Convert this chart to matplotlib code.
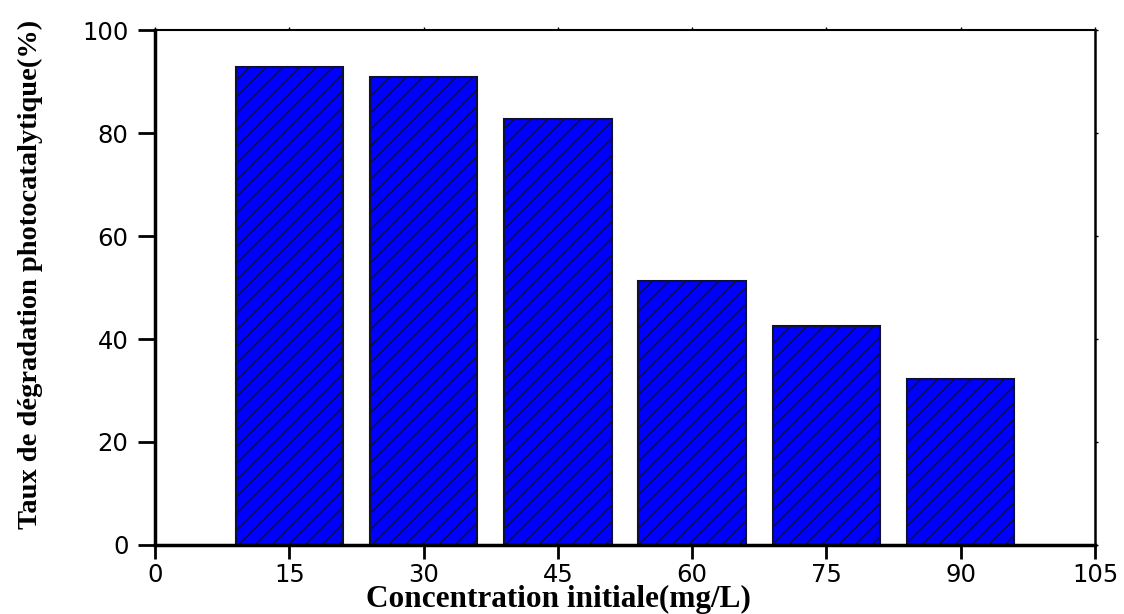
import matplotlib
matplotlib.use("Agg")
import matplotlib.pyplot as plt

concentrations = [15, 30, 45, 60, 75, 90]
degradation = [92.8, 90.9, 82.7, 51.3, 42.5, 32.2]
x_ticks = [0, 15, 30, 45, 60, 75, 90, 105]
y_ticks = [0, 20, 40, 60, 80, 100]

plt.rcParams['hatch.color'] = 'black'
plt.rcParams['hatch.linewidth'] = 1.0

fig = plt.figure(figsize=(11.24, 6.14), dpi=100)
ax = fig.add_axes([0.1379, 0.1124, 0.8363, 0.8387])

ax.bar(concentrations, degradation, width=12, color='#0000FF',
       edgecolor='#101030', linewidth=1.5, hatch='//', zorder=2)

ax.set_xlim(0, 105)
ax.set_ylim(0, 100)
ax.set_xticks(x_ticks)
ax.set_yticks(y_ticks)

tick_font = {'family': 'DejaVu Sans', 'size': 17.5}
ax.set_xticklabels([str(t) for t in x_ticks], fontdict=tick_font)
ax.set_yticklabels([str(t) for t in y_ticks], fontdict=tick_font)

ax.tick_params(axis='x', which='major', direction='out', length=10,
               width=2, pad=3, color='black')
ax.tick_params(axis='y', which='major', direction='out', length=12,
               width=2, pad=7, color='black')
ax.tick_params(top=True, right=True, labeltop=False, labelright=False)

for tick in ax.xaxis.get_major_ticks() + ax.yaxis.get_major_ticks():
    tick.tick2line.set_markersize(2)
    tick.tick2line.set_markeredgewidth(1)

ax.spines['left'].set_linewidth(2.5)
ax.spines['bottom'].set_linewidth(2.5)
ax.spines['top'].set_linewidth(1.5)
ax.spines['right'].set_linewidth(1.8)

fig.text(0.497, 0.011, 'Concentration initiale(mg/L)', ha='center', va='baseline',
         family='Liberation Serif', fontweight='bold', fontsize=22.5)
fig.text(0.027, 0.553, 'Taux de dégradation photocatalytique(%)', ha='center',
         va='center', rotation=90, family='Liberation Serif',
         fontweight='bold', fontsize=20.5)

fig.savefig('out.png', dpi=100)
